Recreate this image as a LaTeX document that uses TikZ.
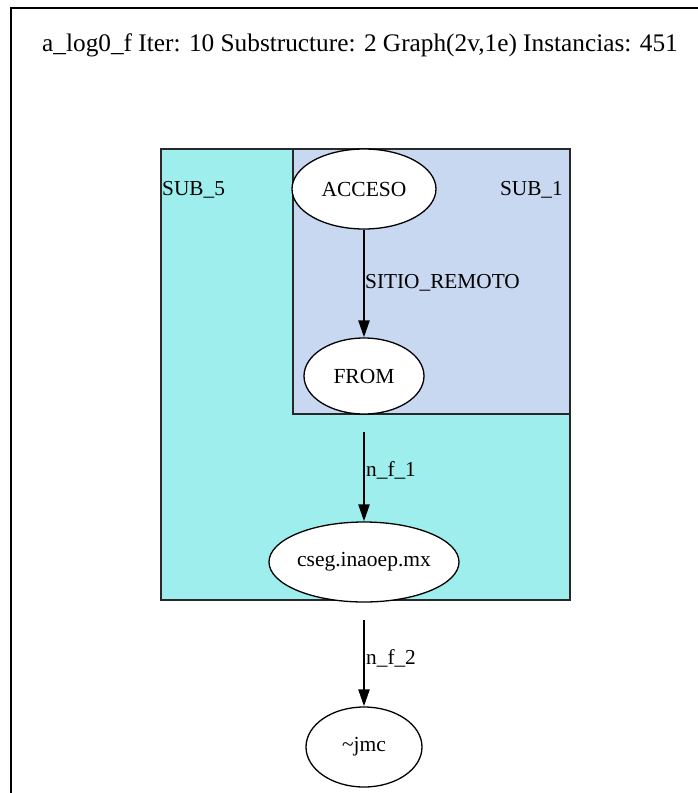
\documentclass[tikz,border=0pt]{standalone}
\usepackage{fontspec}
\setmainfont{Liberation Serif}
\usetikzlibrary{shapes.geometric,arrows.meta}
\definecolor{subfive}{RGB}{158,238,238}
\definecolor{subone}{RGB}{200,216,240}
\definecolor{frameline}{RGB}{40,40,40}
\tikzset{
  cluster/.style={draw=frameline,line width=1.6pt},
  vnode/.style={ellipse,draw=black,line width=1.3pt,fill=white,inner sep=0pt,font=\fontsize{21.5}{25}\selectfont},
  lbl/.style={font=\fontsize{21.3}{25}\selectfont,inner sep=0pt},
  edge/.style={draw=black,line width=2.4pt,-{Triangle[length=17pt,width=11pt]}}
}
\begin{document}
\begin{tikzpicture}[x=1pt,y=-1pt]
\useasboundingbox (0,0) rectangle (698,793);
\fill[white] (0,0) rectangle (698,793);
% frame
\draw[line width=2pt,black] (11,793) -- (11,8) -- (698,8);
% title
\node[inner sep=0pt,font=\fontsize{25.3}{30}\selectfont] (title) at (360,45) {a\_log0\_f Iter: 10 Substructure: 2 Graph(2v,1e) Instancias: 451};
% clusters
\draw[cluster,fill=subfive] (161,149) rectangle (570,600);
\draw[cluster,fill=subone] (293,149) rectangle (570,414);
\node[lbl,anchor=west] (sub5) at (162,190) {SUB\_5};
\node[lbl,anchor=east] (sub1) at (563,190) {SUB\_1};
% nodes
\node[vnode,minimum width=144pt,minimum height=80pt] (acc) at (364,189) {ACCESO};
\node[vnode,minimum width=120pt,minimum height=76pt] (from) at (364,376) {FROM};
\node[vnode,minimum width=190pt,minimum height=80pt] (cseg) at (364,562) {cseg.inaoep.mx};
\node[vnode,minimum width=116pt,minimum height=80pt] (jmc) at (364,747) {\textasciitilde jmc};
\coordinate (c1) at (364,432);
\coordinate (c2) at (364,620);
% edges
\draw[edge] (acc) -- (from);
\draw[edge] (c1) -- (cseg);
\draw[edge] (c2) -- (jmc);
% edge labels
\node[lbl,anchor=west] (l1) at (365,283) {SITIO\_REMOTO};
\node[lbl,anchor=west] (l2) at (366,470) {n\_f\_1};
\node[lbl,anchor=west] (l3) at (366,658) {n\_f\_2};
\end{tikzpicture}
\end{document}
